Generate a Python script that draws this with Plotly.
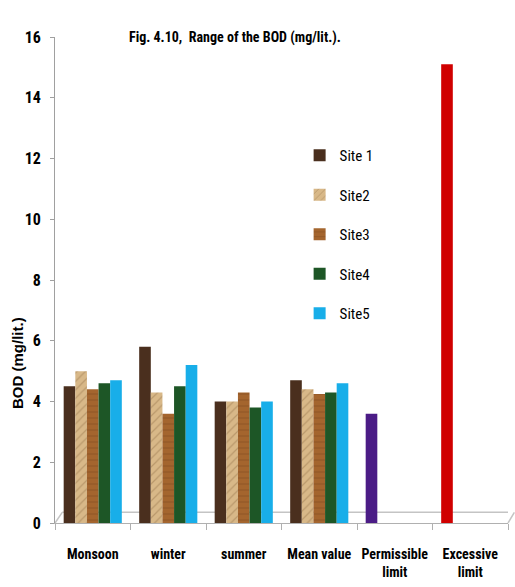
import plotly.graph_objects as go

# Seasons and reference limits along the x axis
categories = ["Monsoon", "winter", "summer", "Mean value",
              "Permissible<br>limit", "Excessive<br>limit"]

# BOD (mg/lit.) at each site; Site 1's slot also carries the two limit bars
site1 = [4.5, 5.8, 4.0, 4.7, 3.6, 15.1]
site2 = [5.0, 4.3, 4.0, 4.4, None, None]
site3 = [4.4, 3.6, 4.3, 4.25, None, None]
site4 = [4.6, 4.5, 3.8, 4.3, None, None]
site5 = [4.7, 5.2, 4.0, 4.6, None, None]

series_names = ["Site 1", "Site2", "Site3", "Site4", "Site5"]

site1_colors = ["#4a2f1e"] * 4 + ["#4b1c86", "#d00000"]

FONT = "Liberation Sans Narrow, Roboto Condensed, Liberation Sans, sans-serif"

fig = go.Figure()

styles = [
    dict(color=site1_colors),
    dict(color="#d8b888", pattern=dict(shape="/", fgcolor="#9c7a50", size=6, solidity=0.2)),
    dict(color="#a4652e", pattern=dict(shape="-", fgcolor="#73431b", size=6, solidity=0.15)),
    dict(color="#1d5626"),
    dict(color="#18aee9"),
]

for i, (name, vals) in enumerate(zip(series_names, [site1, site2, site3, site4, site5])):
    fig.add_trace(go.Bar(
        x=categories, y=vals, name=name, legendgroup=name,
        marker=dict(line=dict(width=0), **styles[i]),
    ))

# light "floor" outline behind the bars
floor = dict(type="line", line=dict(color="#c4c4c4", width=1.5), layer="below")
fig.add_shape(**floor, xref="paper", yref="paper", x0=0.016, x1=1.0, y0=0.022, y1=0.022)
fig.add_shape(**floor, xref="paper", yref="paper", x0=0.0, x1=0.016, y0=0.0, y1=0.022)
fig.add_shape(**floor, xref="paper", yref="paper", x0=1.0, x1=1.014, y0=0.0, y1=0.022)

fig.update_layout(
    width=515, height=587,
    margin=dict(l=55, r=7, t=37, b=64),
    paper_bgcolor="white", plot_bgcolor="white",
    barmode="group", bargap=0.23, bargroupgap=0,
    font=dict(family=FONT, size=14, color="black"),
    showlegend=True,
    legend=dict(x=0.54, y=0.79, xanchor="left", yanchor="top",
                bgcolor="rgba(0,0,0,0)", tracegroupgap=17,
                font=dict(family=FONT, size=15, color="black"),
                itemwidth=30),
    annotations=[
        dict(text="<b>Fig. 4.10,  Range of the BOD (mg/lit.).</b>",
             xref="paper", yref="paper", x=0.16, y=1.0,
             xanchor="left", yanchor="middle", showarrow=False,
             font=dict(family=FONT, size=14, color="black")),
        dict(text="<b>BOD (mg/lit.)</b>", textangle=-90,
             xref="paper", yref="paper", x=-0.083, y=0.33,
             xanchor="center", yanchor="middle", showarrow=False,
             font=dict(family="Liberation Sans, Arial, sans-serif", size=15, color="black")),
    ],
)

fig.update_yaxes(
    range=[0, 16], dtick=2, showgrid=False, zeroline=False,
    showline=True, linecolor="#a0a0a0", linewidth=1,
    ticks="outside", ticklen=4, tickcolor="#a0a0a0",
    tickfont=dict(family=FONT, size=16, color="black"),
    tickprefix="<b>", ticksuffix="</b>", ticklabelstandoff=6,
    automargin=False,
)
fig.update_xaxes(
    showgrid=False, showline=True, linecolor="#b0b0b0", linewidth=1,
    ticks="outside", tickson="boundaries", ticklen=6, tickcolor="#b0b0b0",
    tickangle=0,
    tickfont=dict(family=FONT, size=14, color="black"),
    tickprefix="<b>", ticksuffix="</b>", ticklabelstandoff=18,
    automargin=False,
)

fig.write_html("out.html")
